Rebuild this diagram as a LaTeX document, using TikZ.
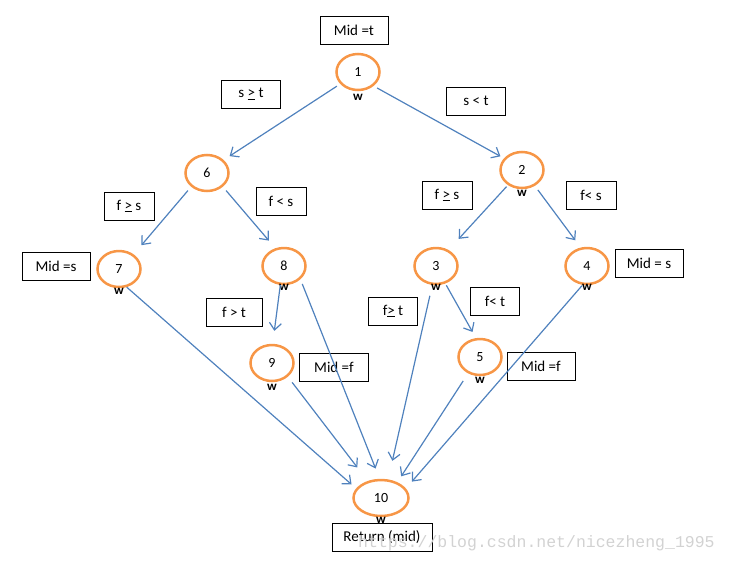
\documentclass[tikz,border=0pt]{standalone}
\usepackage{fontspec}
\setmainfont{Carlito}
\setmonofont{Liberation Mono}
\usetikzlibrary{shapes.geometric,arrows.meta,positioning,calc}
\definecolor{ringcolor}{RGB}{247,150,70}
\definecolor{edgecolor}{RGB}{79,129,189}

\begin{document}
\begin{tikzpicture}[
    x=1pt, y=-1pt,
    vtx/.style={ellipse, draw=ringcolor, line width=2.5pt, minimum width=43, minimum height=36, inner sep=0pt, font=\fontsize{14}{16}\selectfont},
    cond/.style={rectangle, draw, line width=1pt, minimum height=28, inner sep=2pt, align=center, font=\fontsize{15}{18}\selectfont},
    wlab/.style={inner sep=0pt, font=\fontsize{13}{15}\selectfont\bfseries},
    flow/.style={-{Straight Barb[length=7pt,width=12pt]}, edgecolor, line width=1.2pt}
]
\useasboundingbox (0,0) rectangle (732,563);

% Decision nodes
\node[vtx] (n1) at (358,72) {1};
\node[vtx] (n2) at (522,170) {2};
\node[vtx] (n3) at (436,266) {3};
\node[vtx] (n4) at (587,266) {4};
\node[vtx] (n5) at (480,357) {5};
\node[vtx] (n6) at (207,173) {6};
\node[vtx] (n7) at (119,269) {7};
\node[vtx] (n8) at (284,266) {8};
\node[vtx] (n9) at (272,363) {9};
\node[vtx, minimum width=55] (n10) at (381,498) {10};

% w marks
\node[wlab] (w1) at (358,97) {w};
\node[wlab] (w2) at (522,193) {w};
\node[wlab] (w3) at (436,287) {w};
\node[wlab] (w4) at (587,287) {w};
\node[wlab] (w5) at (480,380) {w};
\node[wlab] (w7) at (119,291) {w};
\node[wlab] (w8) at (284,287) {w};
\node[wlab] (w9) at (272,387) {w};
\node[wlab] (w10) at (381,520) {w};

% Conditions and assignments
\node[cond, minimum width=68] (midt) at (354,30) {Mid =t};
\node[cond, minimum width=59] (sget) at (251,94) {s \underline{>} t};
\node[cond, minimum width=59] (slt) at (476,101) {s < t};
\node[cond, minimum width=50] (fges6) at (129,206) {f \underline{>} s};
\node[cond, minimum width=50] (flts6) at (281,201) {f < s};
\node[cond, minimum width=68] (mids7) at (56,266) {Mid =s};
\node[cond, minimum width=50] (fges2) at (447,195) {f \underline{>} s};
\node[cond, minimum width=50] (flts2) at (591,195) {f< s};
\node[cond, minimum width=68] (mids4) at (649,263) {Mid = s};
\node[cond, minimum width=56] (fgtt) at (234,312) {f > t};
\node[cond, minimum width=69] (midf9) at (334,367) {Mid =f};
\node[cond, minimum width=49] (fget) at (393,311) {f\underline{>} t};
\node[cond, minimum width=49] (fltt) at (495,301) {f< t};
\node[cond, minimum width=68] (midf5) at (541,366) {Mid =f};
\node[cond, minimum width=100] (ret) at (382,537) {Return (mid)};

% Branches
\draw[flow, shorten <=4pt, shorten >=7pt] (n1.-146) -- (n6.38);
\draw[flow, shorten <=4pt, shorten >=4pt] (n1.-42) -- (n2.147);
\draw[flow, shorten <=5pt, shorten >=12pt] (n6.-139) -- (n7.45);
\draw[flow, shorten <=5pt, shorten >=10pt] (n6.-41) -- (n8.116);
\draw[flow, shorten <=2pt, shorten >=15pt] (n2.-133) -- (n3.52);
\draw[flow, shorten <=5pt, shorten >=9pt] (n2.-51) -- (n4.109);
\draw[flow, shorten >=13pt] (n8.-101) -- (n9.88);
\draw[flow, shorten <=2pt, shorten >=7pt] (n3.-62) -- (n5.102);

% Joins into the return
\draw[flow, shorten >=6pt] (n7.-67) -- (n10.159);
\draw[flow, shorten <=5pt, shorten >=11pt] (n8.-39) -- (n10.94);
\draw[flow, shorten <=7pt, shorten >=17pt] (n9.-41) -- (n10.128);
\draw[flow, shorten <=11pt, shorten >=19pt] (n3.-101) -- (n10.69);
\draw[flow, shorten <=9pt, shorten >=7pt] (n5.-126) -- (n10.44);
\draw[flow, shorten <=1pt, shorten >=9pt] (n4.-103) -- (n10.21);

% Watermark
\node[anchor=west, inner sep=0pt, text=gray!35, font=\ttfamily\fontsize{16.5}{18}\selectfont] (mark) at (358,543) {https://blog.csdn.net/nicezheng\_1995};

\end{tikzpicture}
\end{document}
